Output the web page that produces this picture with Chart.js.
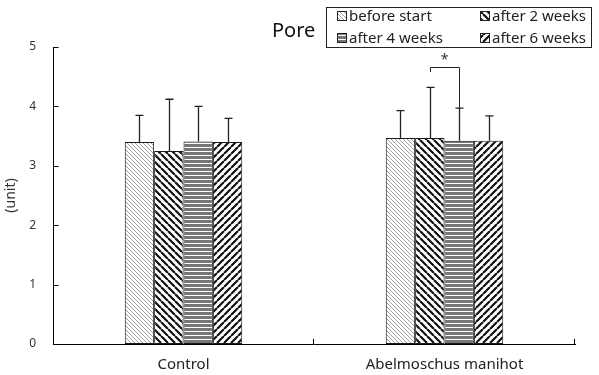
<!DOCTYPE html>
<html>
<head>
<meta charset="utf-8">
<script src="https://cdn.jsdelivr.net/npm/chart.js@4.4.1/dist/chart.umd.min.js"></script>
<style>
  html, body { margin: 0; padding: 0; background: #fff; }
  #wrap { width: 599px; height: 375px; }
</style>
</head>
<body>
<div id="wrap"><canvas id="c" width="599" height="375"></canvas></div>
<script>
const categories = ['Control', 'Abelmoschus manihot']
const seriesNames = ['before start', 'after 2 weeks', 'after 4 weeks', 'after 6 weeks']
const beforeStart = [3.40, 3.47]
const after2Weeks = [3.25, 3.47]
const after4Weeks = [3.41, 3.42]
const after6Weeks = [3.40, 3.42]
const sdBefore = [0.45, 0.46]
const sd2Weeks = [0.87, 0.85]
const sd4Weeks = [0.59, 0.55]
const sd6Weeks = [0.40, 0.42]
const yTicks = [0, 1, 2, 3, 4, 5]
// significance: category index, from series, to series, bracket top value
const sigMark = [1, 1, 2, 4.67]

const FONT = '"Noto Sans", "Open Sans", sans-serif'

// hatch patterns
function makePattern(kind) {
  const t = document.createElement('canvas')
  const s = kind === 'fine' ? 4 : kind === 'horiz' ? 4 : 7
  t.width = s
  t.height = s
  const g = t.getContext('2d')
  g.fillStyle = '#fff'
  g.fillRect(0, 0, s, s)
  if (kind === 'horiz') {
    g.fillStyle = '#777'
    g.fillRect(0, 0, s, 3)
    return g.createPattern(t, 'repeat')
  }
  g.strokeStyle = kind === 'fine' ? '#a0a0a0' : '#111'
  g.lineWidth = kind === 'fine' ? 1 : 2.2
  g.beginPath()
  for (let x0 = -s; x0 <= s; x0 += s) {
    if (kind === 'fwd') {
      g.moveTo(x0, s)
      g.lineTo(x0 + s, 0)
    } else {
      g.moveTo(x0, 0)
      g.lineTo(x0 + s, s)
    }
  }
  g.stroke()
  return g.createPattern(t, 'repeat')
}

const ctx0 = document.getElementById('c').getContext('2d')
const patterns = [makePattern('fine'), makePattern('back'), makePattern('horiz'), makePattern('fwd')]
const seriesValues = [beforeStart, after2Weeks, after4Weeks, after6Weeks]
const seriesSd = [sdBefore, sd2Weeks, sd4Weeks, sd6Weeks]

const extras = {
  id: 'extras',
  afterDatasetsDraw(chart) {
    const { ctx, scales: { x, y }, chartArea } = chart
    ctx.save()
    // error bars
    ctx.strokeStyle = '#222'
    ctx.lineWidth = 1.3
    seriesValues.forEach((vals, di) => {
      const meta = chart.getDatasetMeta(di)
      meta.data.forEach((bar, i) => {
        const top = y.getPixelForValue(vals[i] + seriesSd[di][i])
        const bx = Math.round(bar.x) + 0.5
        ctx.beginPath()
        ctx.moveTo(bx, bar.y)
        ctx.lineTo(bx, top)
        ctx.moveTo(bx - 4, top)
        ctx.lineTo(bx + 4, top)
        ctx.stroke()
      })
    })
    // significance bracket
    const [ci, a, b, topVal] = sigMark
    const ba = chart.getDatasetMeta(a).data[ci]
    const bb = chart.getDatasetMeta(b).data[ci]
    const yTop = y.getPixelForValue(topVal)
    const yLeft = y.getPixelForValue(topVal - 0.09)
    const yRight = y.getPixelForValue(seriesValues[b][ci] + seriesSd[b][ci])
    ctx.lineWidth = 1
    ctx.beginPath()
    ctx.moveTo(Math.round(ba.x) + 0.5, yLeft)
    ctx.lineTo(Math.round(ba.x) + 0.5, Math.round(yTop) + 0.5)
    ctx.lineTo(Math.round(bb.x) + 0.5, Math.round(yTop) + 0.5)
    ctx.lineTo(Math.round(bb.x) + 0.5, yRight)
    ctx.stroke()
    ctx.fillStyle = '#333'
    ctx.font = '14px ' + FONT
    ctx.textAlign = 'center'
    ctx.textBaseline = 'middle'
    ctx.fillText('*', (ba.x + bb.x) / 2, yTop - 7)
    // inner y ticks
    ctx.strokeStyle = '#000'
    ctx.lineWidth = 1
    const ax = Math.round(chartArea.left) + 0.5
    yTicks.forEach(v => {
      const py = Math.round(y.getPixelForValue(v)) + 0.5
      ctx.beginPath()
      ctx.moveTo(ax, py)
      ctx.lineTo(ax + 5, py)
      ctx.stroke()
    })
    // category boundary ticks on x axis
    const by = Math.round(chartArea.bottom)
    for (let i = 1; i <= categories.length; i++) {
      const px = Math.round(x.getPixelForValue(i - 0.5)) - 0.5
      ctx.beginPath()
      ctx.moveTo(px, by)
      ctx.lineTo(px, by - 5)
      ctx.stroke()
    }
    ctx.restore()
  },
  afterDraw(chart) {
    const { ctx } = chart
    ctx.save()
    // title
    ctx.fillStyle = '#111'
    ctx.font = '20px ' + FONT
    ctx.textAlign = 'left'
    ctx.textBaseline = 'middle'
    ctx.fillText('Pore', 272, 31)
    // legend box
    ctx.strokeStyle = '#222'
    ctx.lineWidth = 1
    ctx.strokeRect(326.5, 7.5, 265, 40)
    ctx.font = '15px ' + FONT
    const pos = [[337, 16], [480, 16], [337, 38], [480, 38]]
    seriesNames.forEach((name, i) => {
      const [sx, sy] = pos[i]
      ctx.fillStyle = patterns[i]
      ctx.fillRect(sx, sy - 5, 10, 10)
      ctx.strokeRect(sx + 0.5, sy - 4.5, 9, 9)
      ctx.fillStyle = '#222'
      ctx.fillText(name, sx + 12, sy + 1)
    })
    ctx.restore()
  }
}

new Chart(ctx0, {
  type: 'bar',
  plugins: [extras],
  data: {
    labels: categories,
    datasets: seriesNames.map((name, i) => ({
      label: name,
      data: seriesValues[i],
      backgroundColor: patterns[i],
      borderColor: '#1a1a1a',
      borderWidth: 1,
      borderSkipped: false,
      categoryPercentage: 0.45,
      barPercentage: 1.0
    }))
  },
  options: {
    responsive: false,
    animation: false,
    layout: { padding: { top: 47, right: 24, left: 0, bottom: 0 } },
    plugins: {
      legend: { display: false },
      tooltip: { enabled: false }
    },
    scales: {
      x: {
        grid: { display: false, drawTicks: false },
        border: { display: true, color: '#000', width: 1 },
        ticks: { color: '#222', font: { family: FONT, size: 15 }, padding: 12 },
        afterFit(scale) { scale.height = 31 }
      },
      y: {
        min: 0,
        max: 5,
        grid: { display: false, drawTicks: false },
        border: { display: true, color: '#000', width: 1 },
        ticks: { stepSize: 1, color: '#333', font: { family: FONT, size: 12 }, padding: 17 },
        title: { display: true, text: '(unit)', color: '#333', font: { family: FONT, size: 14 }, padding: { top: 3, bottom: 0 } },
        afterFit(scale) { scale.width = 53 }
      }
    }
  }
})
</script>
</body>
</html>
